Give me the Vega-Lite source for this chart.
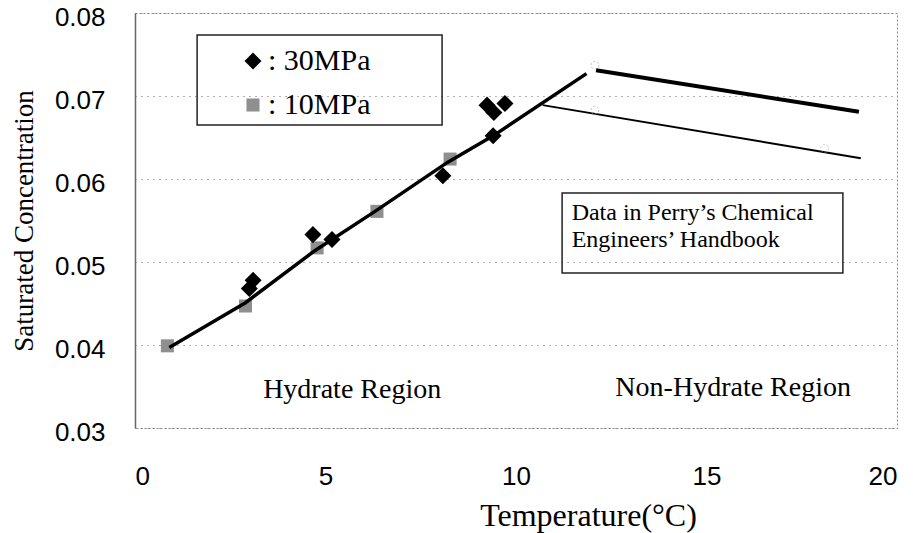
{
  "$schema": "https://vega.github.io/schema/vega-lite/v6.json",
  "width": 762,
  "height": 415,
  "autosize": {"type": "none"},
  "padding": {"left": 135, "top": 13, "right": 16, "bottom": 105},
  "background": "white",
  "config": {
    "view": {"stroke": "#8a8a8a", "strokeDash": [2, 2], "strokeWidth": 1},
    "legend": {
      "orient": "none",
      "legendX": 62,
      "legendY": 24,
      "padding": 9,
      "labelFont": "Liberation Serif",
      "labelFontSize": 30,
      "labelColor": "#000000",
      "labelLimit": 400,
      "symbolOffset": 32,
      "labelOffset": 0,
      "rowPadding": 14,
      "symbolStrokeWidth": 0,
      "title": null
    }
  },
  "datasets": {
    "obs": [
      {"series": "30MPa", "T": 3.0, "C": 0.0468},
      {"series": "30MPa", "T": 3.1, "C": 0.0478},
      {"series": "30MPa", "T": 4.67, "C": 0.0533},
      {"series": "30MPa", "T": 5.17, "C": 0.0527},
      {"series": "30MPa", "T": 8.08, "C": 0.0604},
      {"series": "30MPa", "T": 9.24, "C": 0.0689},
      {"series": "30MPa", "T": 9.42, "C": 0.068},
      {"series": "30MPa", "T": 9.71, "C": 0.0691},
      {"series": "30MPa", "T": 9.4, "C": 0.0652},
      {"series": "10MPa", "T": 0.85, "C": 0.0399},
      {"series": "10MPa", "T": 2.9, "C": 0.0447},
      {"series": "10MPa", "T": 4.78, "C": 0.0517},
      {"series": "10MPa", "T": 6.35, "C": 0.0561},
      {"series": "10MPa", "T": 8.27, "C": 0.0624}
    ],
    "fit": [
      {"T": 0.9, "C": 0.0397},
      {"T": 2.9, "C": 0.0451},
      {"T": 4.7, "C": 0.0513},
      {"T": 6.3, "C": 0.0561},
      {"T": 8.2, "C": 0.062},
      {"T": 9.4, "C": 0.0652},
      {"T": 11.85, "C": 0.0727}
    ],
    "perry": [
      {"curve": "Perry 30MPa", "T": 12.1, "C": 0.0731},
      {"curve": "Perry 30MPa", "T": 19.0, "C": 0.0681},
      {"curve": "Perry 10MPa", "T": 10.7, "C": 0.0689},
      {"curve": "Perry 10MPa", "T": 19.05, "C": 0.0625}
    ],
    "perryPts": [
      {"T": 12.07, "C": 0.0737},
      {"T": 12.07, "C": 0.0683},
      {"T": 18.1, "C": 0.0637}
    ]
  },
  "layer": [
    {
      "data": {"values": [{}]},
      "mark": {"type": "rect", "fill": "white", "fillOpacity": 0, "stroke": "#222222", "strokeWidth": 1.5},
      "encoding": {
        "x": {
          "datum": 1.63,
          "type": "quantitative",
          "scale": {"domain": [0, 20], "nice": false, "zero": false},
          "axis": {
            "values": [0, 5, 10, 15, 20],
            "grid": false,
            "ticks": false,
            "domain": false,
            "labelFont": "Liberation Sans",
            "labelFontSize": 26,
            "labelColor": "#000000",
            "labelPadding": 35,
            "title": "Temperature(°C)",
            "titleFont": "Liberation Serif",
            "titleFontSize": 32,
            "titleFontWeight": "normal",
            "titleColor": "#000000",
            "titleX": 453,
            "titleY": 87,
            "titleBaseline": "middle",
            "titleAlign": "center"
          }
        },
        "x2": {"datum": 8.06},
        "y": {
          "datum": 0.07735,
          "type": "quantitative",
          "scale": {"domain": [0.03, 0.08], "nice": false, "zero": false},
          "axis": {
            "values": [0.03, 0.04, 0.05, 0.06, 0.07, 0.08],
            "format": ".2f",
            "grid": true,
            "gridDash": [1, 5],
            "gridColor": "#666666",
            "ticks": false,
            "domain": true,
            "domainColor": "#666666",
            "domainWidth": 1.5,
            "labelFont": "Liberation Sans",
            "labelFontSize": 26,
            "labelColor": "#000000",
            "labelPadding": 30,
            "labelOffset": 4,
            "title": "Saturated Concentration",
            "titleFont": "Liberation Serif",
            "titleFontSize": 27,
            "titleFontWeight": "normal",
            "titleColor": "#000000",
            "titlePadding": 16
          }
        },
        "y2": {"datum": 0.0665}
      }
    },
    {
      "data": {"name": "obs"},
      "transform": [{"filter": "datum.series === '10MPa'"}],
      "mark": {"type": "point", "filled": true, "opacity": 1},
      "encoding": {
        "x": {"field": "T", "type": "quantitative"},
        "y": {"field": "C", "type": "quantitative"},
        "color": {
          "field": "series",
          "type": "nominal",
          "scale": {"domain": ["30MPa", "10MPa"], "range": ["#000000", "#8f8f8f"]},
          "legend": {"labelExpr": "': ' + datum.label"}
        },
        "shape": {
          "field": "series",
          "type": "nominal",
          "scale": {"domain": ["30MPa", "10MPa"], "range": ["diamond", "square"]}
        },
        "size": {
          "field": "series",
          "type": "nominal",
          "scale": {"domain": ["30MPa", "10MPa"], "range": [290, 170]}
        }
      }
    },
    {
      "data": {"name": "fit"},
      "mark": {"type": "line", "color": "#000000", "strokeWidth": 3.5},
      "encoding": {
        "x": {"field": "T", "type": "quantitative"},
        "y": {"field": "C", "type": "quantitative"}
      }
    },
    {
      "data": {"name": "perry"},
      "mark": {"type": "line", "color": "#000000"},
      "encoding": {
        "x": {"field": "T", "type": "quantitative"},
        "y": {"field": "C", "type": "quantitative"},
        "detail": {"field": "curve", "type": "nominal"},
        "strokeWidth": {
          "field": "curve",
          "type": "nominal",
          "scale": {"domain": ["Perry 30MPa", "Perry 10MPa"], "range": [4, 2]},
          "legend": null
        }
      }
    },
    {
      "data": {"name": "perryPts"},
      "mark": {"type": "point", "shape": "circle", "size": 60, "filled": false, "stroke": "#aaaaaa", "strokeWidth": 1, "strokeDash": [2, 2]},
      "encoding": {
        "x": {"field": "T", "type": "quantitative"},
        "y": {"field": "C", "type": "quantitative"}
      }
    },
    {
      "data": {"name": "obs"},
      "transform": [{"filter": "datum.series === '30MPa'"}],
      "mark": {"type": "point", "filled": true, "opacity": 1},
      "encoding": {
        "x": {"field": "T", "type": "quantitative"},
        "y": {"field": "C", "type": "quantitative"},
        "color": {
          "field": "series",
          "type": "nominal",
          "scale": {"domain": ["30MPa", "10MPa"], "range": ["#000000", "#8f8f8f"]},
          "legend": {"labelExpr": "': ' + datum.label"}
        },
        "shape": {
          "field": "series",
          "type": "nominal",
          "scale": {"domain": ["30MPa", "10MPa"], "range": ["diamond", "square"]}
        },
        "size": {
          "field": "series",
          "type": "nominal",
          "scale": {"domain": ["30MPa", "10MPa"], "range": [290, 170]}
        }
      }
    },
    {
      "data": {"values": [{}]},
      "mark": {"type": "rect", "fill": "white", "fillOpacity": 0, "stroke": "#222222", "strokeWidth": 1.5},
      "encoding": {
        "x": {"datum": 11.21, "type": "quantitative"},
        "x2": {"datum": 18.58},
        "y": {"datum": 0.05831, "type": "quantitative"},
        "y2": {"datum": 0.04867}
      }
    },
    {
      "data": {"values": [{}]},
      "mark": {"type": "text", "font": "Liberation Serif", "fontSize": 28, "color": "#000000", "align": "center", "baseline": "middle", "text": "Hydrate Region"},
      "encoding": {
        "x": {"datum": 5.7, "type": "quantitative"},
        "y": {"datum": 0.03458, "type": "quantitative"}
      }
    },
    {
      "data": {"values": [{}]},
      "mark": {"type": "text", "font": "Liberation Serif", "fontSize": 28, "color": "#000000", "align": "center", "baseline": "middle", "text": "Non-Hydrate Region"},
      "encoding": {
        "x": {"datum": 15.7, "type": "quantitative"},
        "y": {"datum": 0.0348, "type": "quantitative"}
      }
    },
    {
      "data": {"values": [{}]},
      "mark": {"type": "text", "font": "Liberation Serif", "fontSize": 24, "color": "#000000", "align": "left", "baseline": "middle", "text": "Data in Perry’s Chemical"},
      "encoding": {
        "x": {"datum": 11.46, "type": "quantitative"},
        "y": {"datum": 0.0559, "type": "quantitative"}
      }
    },
    {
      "data": {"values": [{}]},
      "mark": {"type": "text", "font": "Liberation Serif", "fontSize": 24, "color": "#000000", "align": "left", "baseline": "middle", "text": "Engineers’ Handbook"},
      "encoding": {
        "x": {"datum": 11.46, "type": "quantitative"},
        "y": {"datum": 0.05265, "type": "quantitative"}
      }
    }
  ]
}
